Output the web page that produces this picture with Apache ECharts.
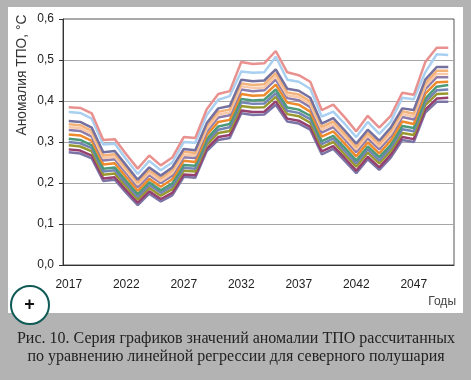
<!DOCTYPE html>
<html>
<head>
<meta charset="utf-8">
<style>
html, body { margin: 0; padding: 0; background: #b3b3b3; }
#container1 { width: 471px; height: 380px; filter: blur(0.4px); }
</style>
<script src="https://cdn.jsdelivr.net/npm/echarts@6/dist/echarts.min.js"></script>
</head>
<body>
<div id="container1"></div>
<script>
var years = ['2017','2018','2019','2020','2021','2022','2023','2024','2025','2026','2027','2028','2029','2030','2031','2032','2033','2034','2035','2036','2037','2038','2039','2040','2041','2042','2043','2044','2045','2046','2047','2048','2049','2050'];

// values, top line first
var pink     = [.385,.383,.370,.305,.307,.270,.235,.267,.243,.262,.312,.310,.380,.417,.424,.495,.490,.492,.522,.470,.463,.447,.378,.391,.360,.326,.364,.335,.364,.420,.415,.495,.530,.530];
var ltBlue   = [.373,.371,.357,.294,.296,.258,.222,.254,.231,.250,.300,.298,.366,.403,.412,.472,.469,.470,.508,.452,.447,.430,.362,.374,.344,.312,.349,.320,.349,.408,.404,.470,.514,.512];
var darkTop  = [.351,.349,.335,.275,.278,.243,.208,.238,.218,.238,.283,.280,.346,.382,.388,.452,.448,.450,.477,.430,.425,.408,.345,.358,.328,.296,.330,.303,.335,.382,.378,.452,.483,.483];
var tan      = [.343,.341,.327,.267,.270,.236,.201,.231,.211,.231,.276,.273,.339,.374,.379,.443,.439,.441,.468,.421,.416,.399,.337,.350,.320,.288,.322,.295,.327,.375,.369,.443,.474,.474];
var peach    = [.336,.334,.320,.261,.264,.230,.196,.225,.205,.224,.269,.267,.332,.367,.372,.436,.432,.433,.460,.414,.409,.392,.330,.343,.313,.282,.316,.289,.320,.368,.362,.436,.466,.466];
var mauve    = [.329,.327,.313,.255,.258,.224,.190,.219,.200,.218,.263,.261,.326,.360,.365,.428,.424,.426,.452,.407,.402,.385,.323,.336,.307,.275,.309,.282,.314,.361,.355,.429,.458,.458];
var orange   = [.318,.316,.303,.245,.248,.214,.181,.210,.191,.209,.254,.251,.317,.349,.354,.417,.413,.414,.440,.396,.391,.374,.313,.326,.296,.265,.299,.272,.304,.350,.344,.418,.446,.447];
var green    = [.308,.305,.292,.235,.238,.205,.173,.202,.182,.199,.244,.242,.307,.338,.344,.405,.401,.403,.428,.384,.379,.364,.302,.315,.286,.255,.289,.263,.293,.339,.334,.406,.435,.439];
var steel    = [.300,.297,.285,.228,.231,.198,.166,.195,.176,.192,.237,.235,.300,.330,.336,.397,.393,.394,.419,.376,.371,.356,.295,.308,.278,.248,.282,.255,.286,.331,.326,.398,.426,.428];
var olive    = [.292,.289,.277,.220,.223,.191,.160,.188,.169,.185,.230,.228,.293,.322,.327,.388,.384,.385,.410,.368,.363,.347,.287,.300,.270,.240,.274,.248,.278,.322,.317,.390,.417,.418];
var crimson  = [.282,.279,.267,.211,.214,.182,.152,.180,.161,.176,.221,.219,.284,.312,.317,.377,.373,.374,.399,.357,.352,.337,.277,.290,.261,.230,.264,.238,.269,.312,.307,.379,.406,.408];
var bottom   = [.275,.272,.260,.205,.208,.176,.146,.174,.155,.170,.215,.213,.278,.305,.310,.370,.366,.367,.391,.350,.345,.330,.270,.283,.254,.224,.258,.232,.262,.305,.300,.372,.398,.398];

var lines = [bottom, crimson, olive, steel, green, orange, mauve, peach, tan, darkTop, ltBlue, pink];
var colors = ['#7b74a6','#96406f','#98982f','#7484b4','#4d9a7a','#ee8a2d','#8d7bab','#f8c9a9','#f3b27a','#74709f','#a9d0f0','#e8918f'];

var yTitle = 'Аномалия ТПО, °С';
var xTitle = 'Годы';
var caption1 = 'Рис. 10. Серия графиков значений аномалии ТПО рассчитанных';
var caption2 = 'по уравнению линейной регрессии для северного полушария';

var dom = document.getElementById('container1');
var myChart = echarts.init(dom);

var series = [];
for (var i = 0; i < lines.length; i++) {
    series.push({
        type: 'line',
        data: lines[i],
        symbol: 'none',
        silent: true,
        lineStyle: { width: 2.5, color: colors[i] }
    });
}

var option = {
    backgroundColor: '#b3b3b3',
    animation: false,
    grid: { left: 63, top: 19, width: 391, height: 246, show: true, borderColor: '#555', borderWidth: 1 },
    xAxis: {
        type: 'category',
        data: years,
        axisLine: { lineStyle: { color: '#333' } },
        axisTick: { interval: 4, length: 4, lineStyle: { color: '#333' } },
        axisLabel: { interval: 4, margin: 14, color: '#222', fontSize: 12, fontFamily: 'Liberation Sans' }
    },
    yAxis: {
        type: 'value',
        min: 0,
        max: 0.6,
        interval: 0.1,
        axisLine: { show: true, lineStyle: { color: '#333' } },
        axisTick: { show: true, length: 4, lineStyle: { color: '#333' } },
        axisLabel: {
            margin: 9, color: '#222', fontSize: 12, fontFamily: 'Liberation Sans',
            formatter: function (v) { return v.toFixed(1).replace('.', ','); }
        },
        splitLine: { showMaxLine: false, lineStyle: { color: '#a6a6a6', width: 1 } }
    },
    graphic: [
        { type: 'rect', z: -1, silent: true, shape: { x: 8, y: 7, width: 455, height: 306 }, style: { fill: '#fff' } },
        { type: 'text', x: 22, y: 75, rotation: Math.PI / 2, silent: true,
          style: { text: yTitle, fill: '#333', font: '13.8px "Liberation Sans"', align: 'center', verticalAlign: 'middle' } },
        { type: 'text', x: 456, y: 302, silent: true,
          style: { text: xTitle, fill: '#444', font: '12px "Liberation Sans"', align: 'right', verticalAlign: 'middle' } },
        { type: 'circle', z: 10, silent: true, shape: { cx: 30, cy: 305, r: 19 }, style: { fill: '#fff', stroke: '#0f5a55', lineWidth: 2 } },
        { type: 'text', z: 11, x: 29.5, y: 305, silent: true,
          style: { text: '+', fill: '#111', font: 'bold 18px "Liberation Sans"', align: 'center', verticalAlign: 'middle' } },
        { type: 'text', x: 236, y: 339, silent: true,
          style: { text: caption1, fill: '#222', font: '16px "Liberation Serif"', align: 'center', verticalAlign: 'middle' } },
        { type: 'text', x: 236, y: 357, silent: true,
          style: { text: caption2, fill: '#222', font: '16px "Liberation Serif"', align: 'center', verticalAlign: 'middle' } }
    ],
    series: series
};

myChart.setOption(option, true);
</script>
</body>
</html>
